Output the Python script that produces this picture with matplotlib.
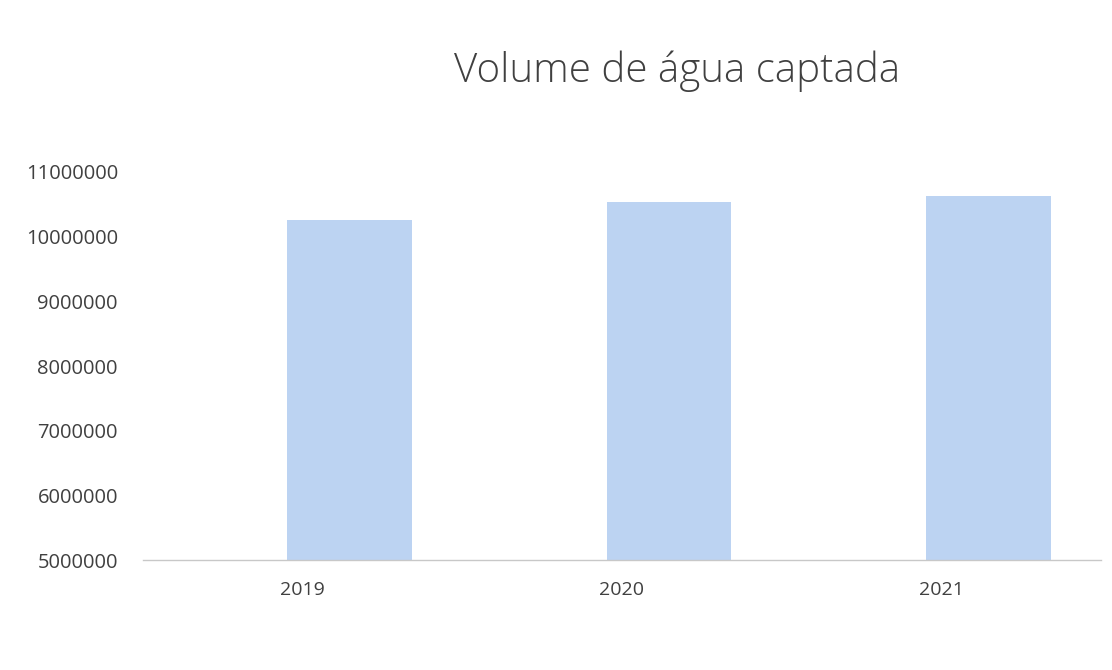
import matplotlib.pyplot as plt
import numpy as np

years = ['2019', '2020', '2021']
volumes = [10263000, 10543000, 10636000]
yticks = [5000000, 6000000, 7000000, 8000000, 9000000, 10000000, 11000000]

plt.rcParams['font.family'] = ['Open Sans', 'DejaVu Sans']

fig = plt.figure(figsize=(11.12, 6.7), dpi=100)
ax = fig.add_axes([143 / 1112, 1 - 560 / 670, 958 / 1112, (560 - 172) / 670])

x = np.arange(len(years))
# bars sit right of the category centre (second slot of a clustered layout)
ax.bar(x + 0.147, volumes, width=0.39, color='#BCD3F2', zorder=2)

ax.set_xlim(-0.5, 2.5)
ax.set_ylim(5000000, 11000000)
ax.set_xticks(x)
ax.set_xticklabels(years)
ax.set_yticks(yticks)
ax.set_yticklabels([str(v) for v in yticks])

ax.tick_params(axis='x', length=0, pad=15, labelsize=14, labelcolor='#404040')
ax.tick_params(axis='y', length=0, pad=18, labelsize=14.5, labelcolor='#404040')

for s in ['top', 'right', 'left']:
    ax.spines[s].set_visible(False)
ax.spines['bottom'].set_color('#c8c8c8')
ax.spines['bottom'].set_linewidth(1)

fig.text(677 / 1112, 1 - 71 / 670, 'Volume de água captada', ha='center', va='center',
         fontsize=29, color='#404040', fontweight='light')

fig.savefig('out.png', dpi=100)
